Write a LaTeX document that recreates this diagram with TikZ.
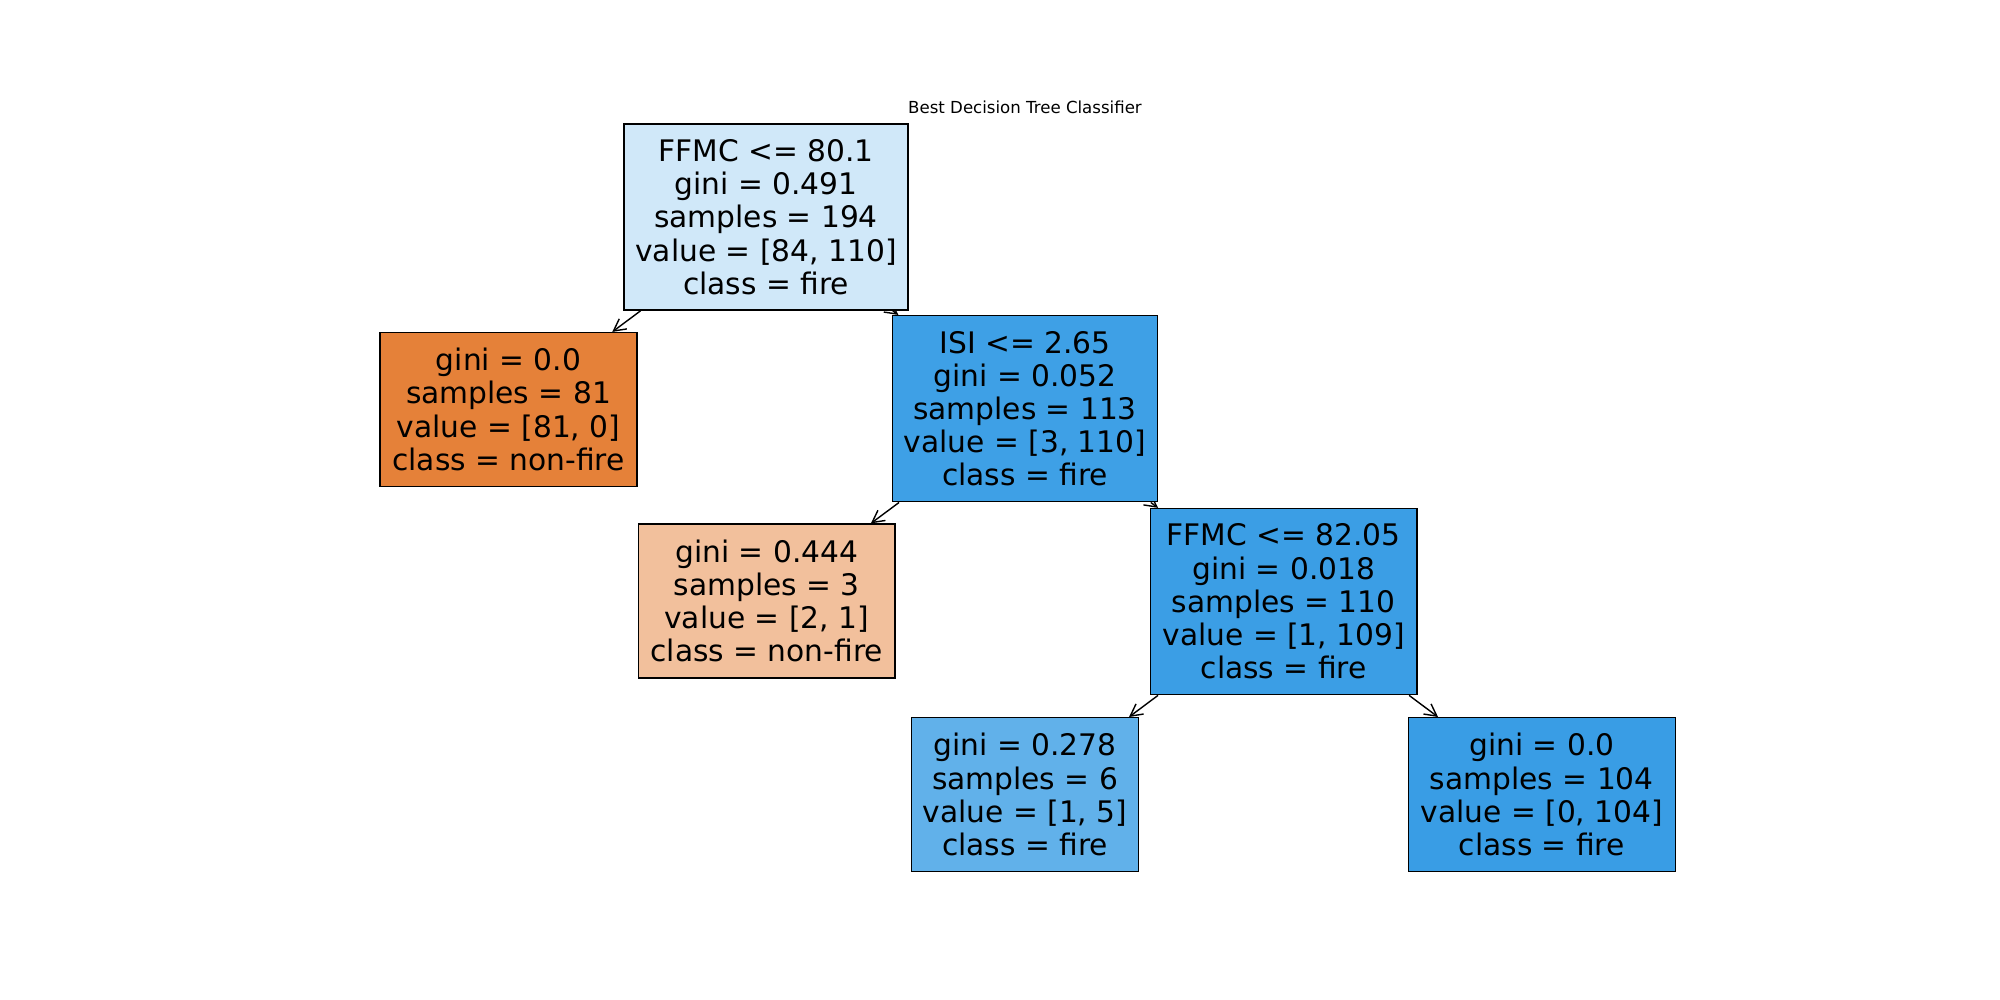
\documentclass[tikz,border=0pt]{standalone}
\usepackage{fontspec}
\setmainfont{DejaVu Sans}
\usetikzlibrary{arrows.meta,backgrounds}
\definecolor{cRoot}{RGB}{208,232,249}
\definecolor{cOrange}{RGB}{229,129,57}
\definecolor{cIsi}{RGB}{62,160,230}
\definecolor{cLightOr}{RGB}{242,192,156}
\definecolor{cFfmc}{RGB}{59,158,229}
\definecolor{cMid}{RGB}{97,177,234}
\definecolor{cBlue}{RGB}{57,157,229}
\begin{document}
\begin{tikzpicture}[x=0.01cm,y=-0.01cm,
  treebox/.style={draw=black, line width=0.4pt, inner sep=0pt, align=center,
    font=\fontsize{8.44}{9.45}\selectfont},
  big/.style={minimum height=1.86cm},
  small/.style={minimum height=1.537cm},
  edge/.style={draw=black, line width=0.4pt, -{Straight Barb[length=3.4pt,width=3.6pt]}},
  titlestyle/.style={font=\fontsize{4.72}{5.6}\selectfont, inner sep=0pt}]
\useasboundingbox (0,0) rectangle (2000,1000);
\node[titlestyle] (title) at (1025,107) {Best Decision Tree Classifier};
\node[treebox,big,fill=cRoot,minimum width=2.84cm] (root) at (766,217)
  {FFMC <= 80.1\\gini = 0.491\\samples = 194\\value = [84, 110]\\class = fire};
\node[treebox,small,fill=cOrange,minimum width=2.57cm] (leafL) at (508.5,409.5)
  {gini = 0.0\\samples = 81\\value = [81, 0]\\class = non-fire};
\node[treebox,big,fill=cIsi,minimum width=2.65cm] (isi) at (1025,408.7)
  {ISI <= 2.65\\gini = 0.052\\samples = 113\\value = [3, 110]\\class = fire};
\node[treebox,small,fill=cLightOr,minimum width=2.565cm] (g444) at (766.7,601)
  {gini = 0.444\\samples = 3\\value = [2, 1]\\class = non-fire};
\node[treebox,big,fill=cFfmc,minimum width=2.666cm] (ffmc2) at (1283.7,601.6)
  {FFMC <= 82.05\\gini = 0.018\\samples = 110\\value = [1, 109]\\class = fire};
\node[treebox,small,fill=cMid,minimum width=2.27cm] (g278) at (1025,794.6)
  {gini = 0.278\\samples = 6\\value = [1, 5]\\class = fire};
\node[treebox,small,fill=cBlue,minimum width=2.667cm] (g104) at (1541.8,794.6)
  {gini = 0.0\\samples = 104\\value = [0, 104]\\class = fire};
\begin{pgfonlayer}{background}
\fill[white] (0,0) rectangle (2000,1000);
\draw[edge] (root) -- (leafL);
\draw[edge] (root) -- (isi);
\draw[edge] (isi) -- (g444);
\draw[edge] (isi) -- (ffmc2);
\draw[edge] (ffmc2) -- (g278);
\draw[edge] (ffmc2) -- (g104);
\end{pgfonlayer}
\end{tikzpicture}
\end{document}
